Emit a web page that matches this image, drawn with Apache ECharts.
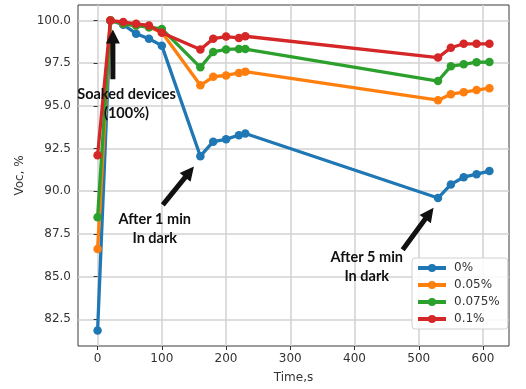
<!DOCTYPE html>
<html>
<head>
<meta charset="utf-8">
<script src="https://cdn.jsdelivr.net/npm/echarts@6/dist/echarts.min.js"></script>
<style>
  html, body { margin: 0; padding: 0; background: #fff; }
  #chart { width: 526px; height: 389px; }
</style>
</head>
<body>
<div id="chart"></div>
<script>
// Measurement times (s)
const times = [0, 20, 40, 60, 80, 100, 160, 180, 200, 220, 230, 530, 550, 570, 590, 610];

// Normalised Voc (%) for each additive concentration
const voc0    = [81.85, 100.0, 99.75, 99.22, 98.92, 98.52, 92.05, 92.90, 93.04, 93.28, 93.38, 89.60, 90.40, 90.82, 91.00, 91.18];
const voc005  = [86.62, 100.0, 99.80, 99.70, 99.60, 99.30, 96.20, 96.70, 96.78, 96.92, 97.00, 95.33, 95.68, 95.80, 95.92, 96.03];
const voc0075 = [88.47, 100.0, 99.80, 99.70, 99.60, 99.50, 97.25, 98.15, 98.30, 98.33, 98.32, 96.45, 97.32, 97.43, 97.55, 97.56];
const voc01   = [92.10, 100.0, 99.90, 99.80, 99.70, 99.28, 98.30, 98.93, 99.05, 98.97, 99.07, 97.82, 98.40, 98.63, 98.63, 98.63];

const seriesNames = ['0%', '0.05%', '0.075%', '0.1%'];
const seriesColors = ['#1f77b4', '#ff7f0e', '#2ca02c', '#d62728'];
const seriesValues = [voc0, voc005, voc0075, voc01];

// Tick positions
const xTicks = [0, 100, 200, 300, 400, 500, 600];
const yTicks = [82.5, 85.0, 87.5, 90.0, 92.5, 95.0, 97.5, 100.0];

// Annotations: text anchor and arrow (from -> to) in data coordinates
const notes = [
  { text: 'Soaked devices\n(100%)', at: [45, 95.1], from: [23.8, 96.55], to: [23.8, 99.47] },
  { text: 'After 1 min\nIn dark',   at: [89, 87.8], from: [101.5, 89.2], to: [150, 91.45] },
  { text: 'After 5 min\nIn dark',   at: [419, 85.6], from: [475, 86.58], to: [523, 89.03] }
];

const chart = echarts.init(document.getElementById('chart'), null, { renderer: 'canvas' });

const axisText = { color: '#333', fontSize: 12, fontFamily: 'DejaVu Sans' };

const option = {
  animation: false,
  backgroundColor: '#fff',
  grid: {
    left: 78, right: 17, top: 5, bottom: 43,
    show: true, borderColor: '#3a3a3a', borderWidth: 1,
    outerBoundsMode: 'none'
  },
  xAxis: {
    type: 'value',
    min: -30.5, max: 640.5,
    name: 'Time,s',
    nameLocation: 'middle',
    nameGap: 26,
    nameTextStyle: axisText,
    axisLine: { show: false },
    axisTick: { show: true, length: 4, lineStyle: { color: '#333' }, customValues: xTicks },
    axisLabel: { ...axisText, margin: 7, customValues: xTicks, formatter: v => String(Math.round(v)) },
    splitLine: { show: true, lineStyle: { color: '#d2d2d2', width: 1.5 } }
  },
  yAxis: {
    type: 'value',
    min: 80.94, max: 100.9,
    name: 'Voc, %',
    nameLocation: 'middle',
    nameGap: 42,
    nameTextStyle: axisText,
    axisLine: { show: false },
    axisTick: { show: true, length: 4, lineStyle: { color: '#333' }, customValues: yTicks },
    axisLabel: { ...axisText, margin: 7, customValues: yTicks, formatter: v => v.toFixed(1) },
    splitLine: { show: true, lineStyle: { color: '#d2d2d2', width: 1.5 } }
  },
  legend: {
    orient: 'vertical',
    left: 412, top: 258,
    width: 91,
    padding: [4, 8, 4, 4],
    itemGap: 5,
    itemWidth: 28, itemHeight: 10,
    backgroundColor: 'rgba(255,255,255,0.85)',
    borderColor: '#d0d0d0', borderWidth: 1, borderRadius: 3,
    lineStyle: { width: 4 },
    textStyle: { color: '#333', fontSize: 12, fontFamily: 'DejaVu Sans', padding: [0, 0, 0, 3] },
    data: seriesNames
  },
  series: seriesNames.map((name, i) => ({
    name,
    type: 'line',
    data: times.map((t, k) => [t, seriesValues[i][k]]),
    symbol: 'circle',
    symbolSize: 8.5,
    showAllSymbol: true,
    lineStyle: { width: 3.3, color: seriesColors[i] },
    itemStyle: { color: seriesColors[i] },
    z: 2 + i
  }))
};

chart.setOption(option);

// Build arrow polygon from tail to tip in pixel space
function arrowPoints(p0, p1) {
  const dx = p1[0] - p0[0], dy = p1[1] - p0[1];
  const len = Math.hypot(dx, dy);
  const ux = dx / len, uy = dy / len;
  const nx = -uy, ny = ux;
  const headLen = 14, headHalf = 7, shaftHalf = 2.5;
  const bx = p1[0] - ux * headLen, by = p1[1] - uy * headLen;
  return [
    [p0[0] + nx * shaftHalf, p0[1] + ny * shaftHalf],
    [bx + nx * shaftHalf, by + ny * shaftHalf],
    [bx + nx * headHalf, by + ny * headHalf],
    [p1[0], p1[1]],
    [bx - nx * headHalf, by - ny * headHalf],
    [bx - nx * shaftHalf, by - ny * shaftHalf],
    [p0[0] - nx * shaftHalf, p0[1] - ny * shaftHalf]
  ];
}

const graphics = [];
notes.forEach(n => {
  const a = chart.convertToPixel({ gridIndex: 0 }, n.from);
  const b = chart.convertToPixel({ gridIndex: 0 }, n.to);
  const c = chart.convertToPixel({ gridIndex: 0 }, n.at);
  graphics.push({
    type: 'polygon',
    shape: { points: arrowPoints(a, b) },
    style: { fill: '#111' },
    z: 20
  });
  graphics.push({
    type: 'text',
    x: c[0], y: c[1],
    style: {
      text: n.text,
      font: 'bold 14.5px Lato',
      fill: '#111',
      align: 'center',
      verticalAlign: 'middle',
      lineHeight: 19
    },
    z: 20
  });
});

chart.setOption({ graphic: graphics });
</script>
</body>
</html>
